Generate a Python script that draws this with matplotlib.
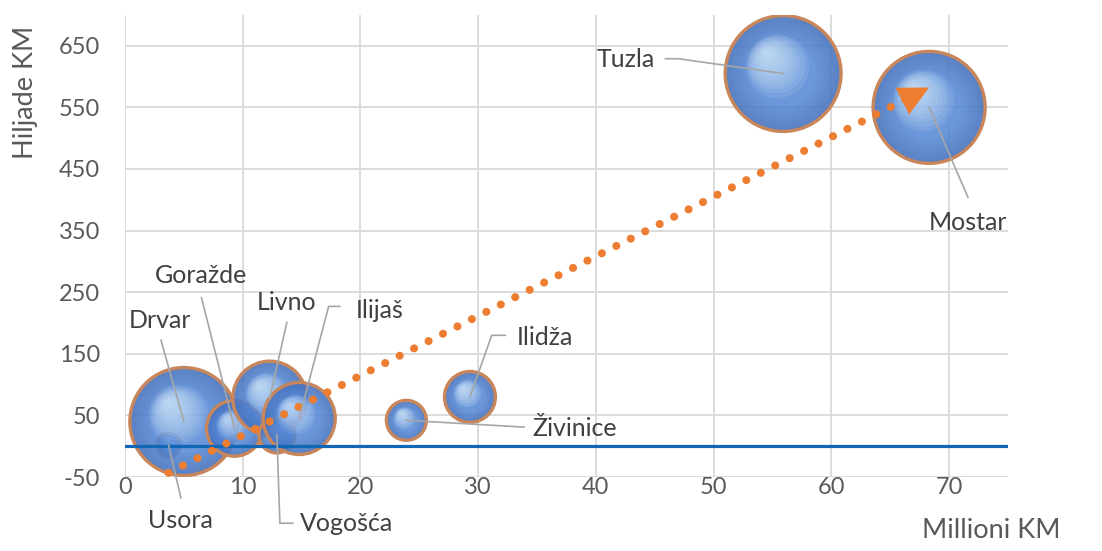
import numpy as np
import matplotlib
matplotlib.use('Agg')
from matplotlib import pyplot as plt
from matplotlib.transforms import offset_copy

plt.rcParams['font.family'] = ['Lato', 'DejaVu Sans']
plt.rcParams['axes.unicode_minus'] = False

# podaci
gradovi = ['Usora', 'Drvar', 'Goražde', 'Livno', 'Vogošća', 'Ilijaš', 'Živinice', 'Ilidža', 'Tuzla', 'Mostar']
mil_km = [3.7, 5.0, 9.3, 12.3, 12.9, 14.8, 23.9, 29.3, 55.9, 68.3]
hilj_km = [2, 40, 29, 78, 18, 45, 42, 80, 605, 550]
velicina = [14, 292, 78, 137, 32, 130, 40, 65, 336, 314]

# pozicije natpisa (tekst, pocetak linije, lom linije)
natpis_xy = {'Drvar': (3.0, 204), 'Tuzla': (42.5, 627), 'Mostar': (71.6, 363), 'Livno': (13.75, 233),
             'Ilijaš': (21.6, 220), 'Goražde': (6.45, 277), 'Ilidža': (35.7, 177), 'Živinice': (38.2, 29),
             'Vogošća': (18.8, -125), 'Usora': (4.7, -120)}
linija_od = {'Drvar': [(3.06, 172)], 'Tuzla': [(45.9, 629), (47.0, 629)], 'Mostar': [(71.6, 404)],
             'Livno': [(13.75, 201)], 'Ilijaš': [(18.25, 227), (17.3, 227)], 'Goražde': [(6.5, 241)],
             'Ilidža': [(32.3, 180), (31.15, 180)], 'Živinice': [(33.9, 31)],
             'Vogošća': [(14.26, -125), (13.16, -125)], 'Usora': [(4.75, -84)]}

fig = plt.figure(figsize=(11.02, 5.51), dpi=100)
ax = fig.add_axes([0.1134, 0.1343, 0.8013, 0.8385])

K = 20.7
for i in range(len(gradovi)):
    x, y = mil_km[i], hilj_km[i]
    s = velicina[i] * K
    r = np.sqrt(s) / 2
    # osnova
    ax.scatter([x], [y], s=s, color='#5386d6', alpha=0.86, lw=0, zorder=2)
    # tamniji rub
    for j in range(7):
        rr = r * (1 - 0.06 * j - 0.03)
        ax.scatter([x], [y], s=(2 * rr) ** 2, facecolor='none', edgecolor='#2a4683',
                   lw=0.06 * r, alpha=0.26 * (1 - j / 7), zorder=2)
    # odsjaj
    for j in range(10):
        t = j / 9
        rr = r * (0.55 - 0.47 * t)
        tr = offset_copy(ax.transData, fig=fig, x=-0.28 * r * (0.4 + 0.6 * t),
                         y=0.34 * r * (0.4 + 0.6 * t), units='points')
        ax.scatter([x], [y], s=(2 * rr) ** 2, color='#e2f3ff', alpha=0.11, lw=0,
                   transform=tr, zorder=2)
    ax.scatter([x], [y], s=s, facecolor='none', edgecolor='#c8865a', lw=2.4, zorder=2)

# linija trenda
k1, k0 = np.polyfit(mil_km, hilj_km, 1)
x1, x2 = min(mil_km), max(mil_km)
xt = np.array([x1, x2 - 1.3])
ax.plot(xt, k0 + k1 * xt, color='#ed7d31', lw=5.8, linestyle=(0, (0.01, 2.0)),
        dash_capstyle='round', zorder=4)
ax.annotate('', xy=(x2, k0 + k1 * x2), xytext=(x2 - 8, k0 + k1 * (x2 - 8)),
            arrowprops=dict(arrowstyle='-|>,head_length=0.9,head_width=0.45', color='#ed7d31',
                            lw=0, mutation_scale=24, shrinkA=0, shrinkB=0), zorder=4)

ax.axhline(0, color='#0f67b5', lw=2.3, zorder=3)

# natpisi
for i, g in enumerate(gradovi):
    tx, ty = natpis_xy[g]
    pts = linija_od[g] + [(mil_km[i], hilj_km[i])]
    ax.plot([p[0] for p in pts], [p[1] for p in pts], color='#a6a6a6', lw=1.2, zorder=5, clip_on=False)
    ax.text(tx, ty, g, fontsize=18, color='#404040', ha='center', va='center', zorder=6, clip_on=False)

ax.set_xlim(0, 75)
ax.set_ylim(-50, 700)
ax.set_xticks(range(0, 71, 10))
ax.set_yticks(range(-50, 651, 100))
ax.set_axisbelow(True)
ax.grid(True, color='#d9d9d9', lw=1.3)
for sp in ax.spines.values():
    sp.set_visible(False)
ax.tick_params(length=0, labelsize=17, labelcolor='#595959')
ax.tick_params(axis='y', pad=18)
ax.tick_params(axis='x', pad=0)

fig.text(26 / 1102, 1 - 92 / 551, 'Hiljade KM', rotation=90, fontsize=19.5, color='#595959',
         ha='center', va='center')
fig.text(991 / 1102, 1 - 531 / 551, 'Millioni KM', fontsize=19.5, color='#595959',
         ha='center', va='center')

plt.savefig('out.png', dpi=100)
